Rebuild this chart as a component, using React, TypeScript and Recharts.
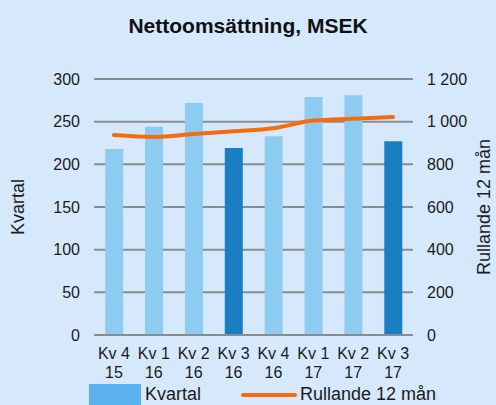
import React from 'react'
import {
  ComposedChart,
  Bar,
  Line,
  XAxis,
  YAxis,
  CartesianGrid,
  Legend,
  Cell,
} from 'recharts'

// Kvartal (MSEK) and rullande 12 mån (MSEK)
const QUARTERS = ['Kv 4 15', 'Kv 1 16', 'Kv 2 16', 'Kv 3 16', 'Kv 4 16', 'Kv 1 17', 'Kv 2 17', 'Kv 3 17']
const KVARTAL = [218, 244, 272, 219, 233, 279, 281, 227]
const RULLANDE = [937, 928, 942, 955, 969, 1005, 1014, 1022]
const LEFT_TICKS = [0, 50, 100, 150, 200, 250, 300]
const RIGHT_TICKS = [0, 200, 400, 600, 800, 1000, 1200]

const data = QUARTERS.map((q, i) => ({ q, kvartal: KVARTAL[i], rullande: RULLANDE[i] }))

const FONT = 'Liberation Sans, Arial, sans-serif'
const BG = '#d6e9fc'
const LIGHT = '#8ecbf1'
const DARK = '#1a7ec3'
const ORANGE = '#f56c0c'
const TXT = '#1a1a1a'

const fmtSpace = (v: number) => String(v).replace(/\B(?=(\d{3})+(?!\d))/g, ' ')

const QuarterTick = (props: any) => {
  const { x, payload } = props
  const [a, b, c] = String(payload.value).split(' ')
  return (
    <text x={x} y={335} textAnchor="middle" fontFamily={FONT} fontSize={16} fill={TXT}>
      <tspan x={x} dy={24}>{a} {b}</tspan>
      <tspan x={x} dy={19}>{c}</tspan>
    </text>
  )
}

const LegendContent = () => (
  <svg width={496} height={26} style={{ display: 'block' }}>
    <rect x={89} y={5} width={52} height={21} fill="#5ab3ee" />
    <text x={145} y={21} fontFamily={FONT} fontSize={18} fill={TXT}>Kvartal</text>
    <line x1={243} y1={16} x2={295} y2={16} stroke={ORANGE} strokeWidth={4} strokeLinecap="round" />
    <text x={300} y={21} fontFamily={FONT} fontSize={18} fill={TXT}>Rullande 12 mån</text>
  </svg>
)

export default function App() {
  return (
    <div style={{ position: 'absolute', left: 0, top: 0, width: 496, height: 405, overflow: 'hidden', background: BG, fontFamily: FONT }}>
      <div style={{ position: 'absolute', top: 14, width: 496, textAlign: 'center', fontSize: 21, fontWeight: 'bold', color: '#111' }}>
        Nettoomsättning, MSEK
      </div>
      <ComposedChart
        width={496}
        height={405}
        data={data}
        margin={{ top: 79, right: 0, bottom: 0, left: 0 }}
        barCategoryGap="28%"
      >
        <CartesianGrid yAxisId="left" stroke="#8c8c8c" strokeWidth={2} vertical={false} />
        <XAxis
          dataKey="q"
          tick={<QuarterTick />}
          tickLine={false}
          axisLine={{ stroke: '#8c8c8c', strokeWidth: 2 }}
          height={44}
          interval={0}
        />
        <YAxis
          yAxisId="left"
          domain={[0, 300]}
          ticks={LEFT_TICKS}
          width={94}
          axisLine={false}
          tickLine={false}
          tickMargin={8}
          tick={{ fontSize: 16, fill: TXT, fontFamily: FONT }}
          label={{ value: 'Kvartal', angle: -90, position: 'insideLeft', offset: 18, style: { fontSize: 18, fill: TXT, fontFamily: FONT, textAnchor: 'middle' } }}
        />
        <YAxis
          yAxisId="right"
          orientation="right"
          domain={[0, 1200]}
          ticks={RIGHT_TICKS}
          width={83}
          axisLine={false}
          tickLine={false}
          tickMargin={8}
          tickFormatter={fmtSpace}
          tick={{ fontSize: 16, fill: TXT, fontFamily: FONT }}
          label={{ value: 'Rullande 12 mån', angle: -90, position: 'insideRight', offset: 12, style: { fontSize: 18, fill: TXT, fontFamily: FONT, textAnchor: 'middle' } }}
        />
        <Legend verticalAlign="bottom" height={26} content={<LegendContent />} />
        <Bar yAxisId="left" dataKey="kvartal" name="Kvartal" isAnimationActive={false}>
          {data.map((d, i) => (
            <Cell key={`c-${i}`} fill={d.q.startsWith('Kv 3') ? DARK : LIGHT} />
          ))}
        </Bar>
        <Line
          yAxisId="right"
          dataKey="rullande"
          name="Rullande 12 mån"
          type="monotone"
          stroke={ORANGE}
          strokeWidth={4}
          dot={false}
          strokeLinecap="round"
          isAnimationActive={false}
        />
      </ComposedChart>
    </div>
  )
}
